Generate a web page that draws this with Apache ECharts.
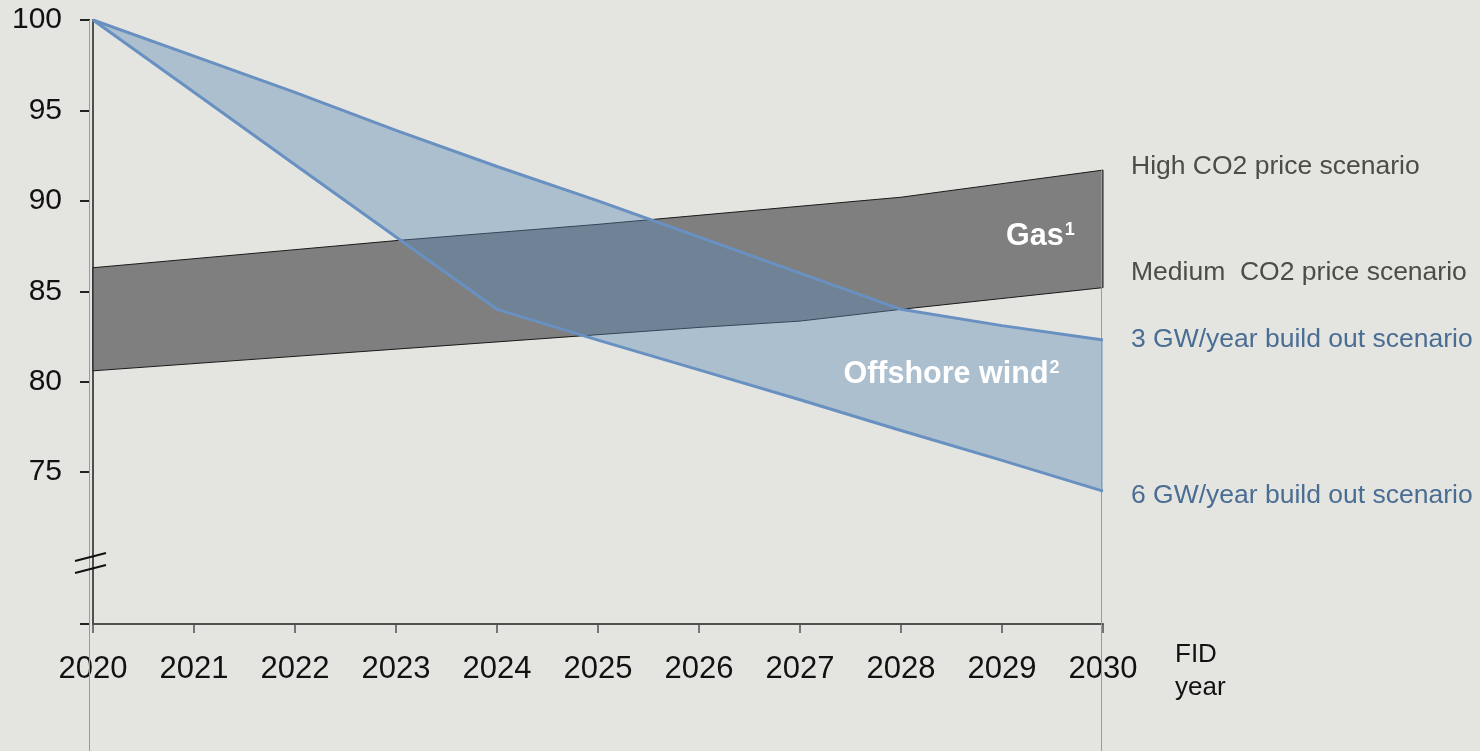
<!DOCTYPE html>
<html>
<head>
<meta charset="utf-8">
<script src="https://cdn.jsdelivr.net/npm/echarts@6/dist/echarts.min.js"></script>
<style>
  html, body { margin: 0; padding: 0; background: #e4e5e0; }
  #chart { width: 1480px; height: 751px; }
</style>
</head>
<body>
<div id="chart"></div>
<script>
// FID years on the horizontal axis
const years = ['2020', '2021', '2022', '2023', '2024', '2025', '2026', '2027', '2028', '2029', '2030'];

// Cost index, 2020 = 100
const gasHighCO2   = [86.3, 86.8, 87.3, 87.8, 88.25, 88.7, 89.2, 89.7, 90.2, 90.95, 91.7];
const gasMediumCO2 = [80.6, 81.0, 81.4, 81.8, 82.2, 82.6, 83.0, 83.35, 84.0, 84.6, 85.2];
const wind3GW      = [100, 98.0, 96.0, 93.9, 91.9, 90.0, 88.0, 86.0, 84.0, 83.1, 82.3];
const wind6GW      = [100, 96.0, 92.0, 88.0, 84.0, 82.3, 80.65, 79.0, 77.3, 75.65, 73.95];

const yTicks  = [66.6, 75, 80, 85, 90, 95, 100];
const yLabels = [75, 80, 85, 90, 95, 100];

const FONT = '"Liberation Sans", Arial, sans-serif';
const chart = echarts.init(document.getElementById('chart'));

// Closed polygon between two curves, in category-index space
function bandPolygon(api, upper, lower) {
  const pts = [];
  for (let i = 0; i < upper.length; i++) pts.push(api.coord([i, upper[i]]));
  for (let i = lower.length - 1; i >= 0; i--) pts.push(api.coord([i, lower[i]]));
  return pts;
}

function edgeLine(name, data, color, width, label) {
  return {
    name: name,
    type: 'line',
    data: data,
    symbol: 'none',
    silent: true,
    z: 5,
    lineStyle: { color: color, width: width },
    endLabel: label
  };
}

chart.setOption({
  backgroundColor: '#e4e5e0',
  animation: false,
  grid: { left: 93, right: 377, top: 20, bottom: 127 },
  xAxis: {
    type: 'category',
    data: years,
    boundaryGap: false,
    axisLine: { lineStyle: { color: '#505050', width: 2 } },
    axisTick: { show: true, length: 9, alignWithLabel: true, lineStyle: { color: '#505050', width: 1.5 } },
    axisLabel: { fontFamily: FONT, fontSize: 31, color: '#111', margin: 30 },
    splitLine: { show: false }
  },
  yAxis: [
    {
      type: 'value',
      min: 66.6,
      max: 100,
      offset: 3,
      axisLine: { show: false },
      axisTick: { show: true, length: 10, customValues: yTicks, lineStyle: { color: '#222', width: 2 } },
      axisLabel: { fontFamily: FONT, fontSize: 30, color: '#111', margin: 28, customValues: yLabels },
      splitLine: { show: false }
    },
    {
      type: 'value',
      min: 66.6,
      max: 100,
      position: 'left',
      axisLine: { show: true, lineStyle: { color: '#505050', width: 2 } },
      axisTick: { show: false },
      axisLabel: { show: false },
      splitLine: { show: false }
    }
  ],
  series: [
    {
      name: 'Gas band',
      type: 'custom',
      silent: true,
      z: 2,
      data: [[0, gasHighCO2[0]]],
      renderItem: function (params, api) {
        return {
          type: 'polygon',
          shape: { points: bandPolygon(api, gasHighCO2, gasMediumCO2) },
          style: { fill: '#7f7f7f', stroke: '#1a1a1a', lineWidth: 1 }
        };
      }
    },
    {
      name: 'Offshore wind band',
      type: 'custom',
      silent: true,
      z: 3,
      data: [[0, wind3GW[0]]],
      renderItem: function (params, api) {
        return {
          type: 'polygon',
          shape: { points: bandPolygon(api, wind3GW, wind6GW) },
          style: { fill: 'rgba(92,136,182,0.41)', stroke: null }
        };
      }
    },
    edgeLine('High CO2 price scenario', gasHighCO2, 'rgba(0,0,0,0)', 0, {
      show: true, formatter: 'High CO2 price scenario', distance: 28, offset: [0, -3],
      fontFamily: FONT, fontSize: 26.5, color: '#4b4d46'
    }),
    edgeLine('Medium CO2 price scenario', gasMediumCO2, 'rgba(0,0,0,0)', 0, {
      show: true, formatter: 'Medium  CO2 price scenario', distance: 28, offset: [0, -15],
      fontFamily: FONT, fontSize: 26.5, color: '#4b4d46'
    }),
    edgeLine('3 GW/year build out scenario', wind3GW, '#6890c0', 3, {
      show: true, formatter: '3 GW/year build out scenario', distance: 28, offset: [0, 0],
      fontFamily: FONT, fontSize: 26.5, color: '#4a6d93'
    }),
    edgeLine('6 GW/year build out scenario', wind6GW, '#6890c0', 3, {
      show: true, formatter: '6 GW/year build out scenario', distance: 28, offset: [0, 5],
      fontFamily: FONT, fontSize: 26.5, color: '#4a6d93'
    })
  ]
});

// Decorations tied to the axes: reference verticals, axis break, band names, axis title
function drawOverlay() {
  const px = (i, v) => chart.convertToPixel({ xAxisIndex: 0, yAxisIndex: 0 }, [i, v]);
  // fractional category position, interpolated between neighbouring ticks
  const pxAt = (f, v) => {
    const i = Math.floor(f);
    const a = px(i, v), b = px(Math.min(i + 1, years.length - 1), v);
    return [a[0] + (b[0] - a[0]) * (f - i), a[1]];
  };
  const H = chart.getHeight();
  const left = px(0, 100);
  const bottom = px(0, 66.6);
  const endTop = px(10, gasHighCO2[10]);
  const breakPt = px(0, 70.3);
  const gasLbl = pxAt(9.38, 88.0);
  const windLbl = pxAt(8.5, 80.4);
  const last = px(10, 66.6);
  const lineStyle = { stroke: '#9a9a96', lineWidth: 1 };
  const bandText = (text, sup, pos) => ({
    type: 'text', z: 10, x: pos[0], y: pos[1],
    style: {
      text: '{b|' + text + '}{s|' + sup + '}', align: 'center', verticalAlign: 'middle',
      rich: {
        b: { fontFamily: FONT, fontSize: 30.5, fontWeight: 'bold', fill: '#ffffff' },
        s: { fontFamily: FONT, fontSize: 18, fontWeight: 'bold', fill: '#ffffff', padding: [0, 0, 13, 1] }
      }
    }
  });

  chart.setOption({
    graphic: [
      { type: 'line', z: 1, shape: { x1: left[0] - 3.5, y1: left[1], x2: left[0] - 3.5, y2: H }, style: lineStyle },
      { type: 'line', z: 4, shape: { x1: endTop[0] - 1.5, y1: endTop[1], x2: endTop[0] - 1.5, y2: H }, style: lineStyle },
      { type: 'line', z: 10, shape: { x1: breakPt[0] - 18, y1: breakPt[1] + 4, x2: breakPt[0] + 13, y2: breakPt[1] - 4 },
        style: { stroke: '#111', lineWidth: 2 } },
      { type: 'line', z: 10, shape: { x1: breakPt[0] - 18, y1: breakPt[1] + 16, x2: breakPt[0] + 13, y2: breakPt[1] + 8 },
        style: { stroke: '#111', lineWidth: 2 } },
      bandText('Gas', '1', gasLbl),
      bandText('Offshore wind', '2', windLbl),
      {
        type: 'text', z: 10, x: last[0] + 72, y: bottom[1] + 14,
        style: { text: 'FID\nyear', fontFamily: FONT, fontSize: 26, lineHeight: 33, fill: '#111', align: 'left', verticalAlign: 'top' }
      }
    ]
  });
}
drawOverlay();
</script>
</body>
</html>
